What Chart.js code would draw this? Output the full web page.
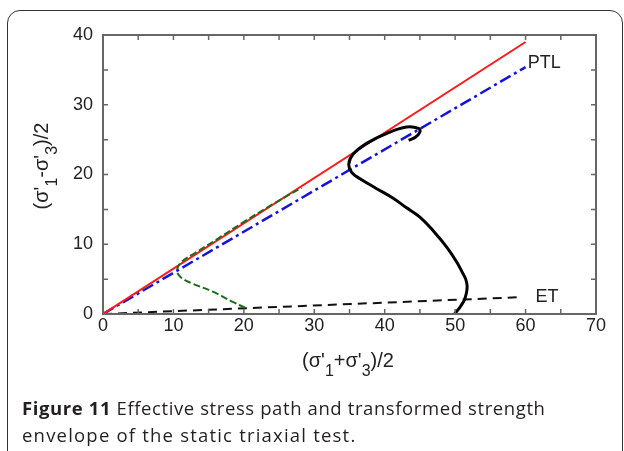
<!DOCTYPE html>
<html>
<head>
<meta charset="utf-8">
<script src="https://cdn.jsdelivr.net/npm/chart.js@4.4.1/dist/chart.umd.min.js"></script>
<style>
    html, body { margin: 0; padding: 0; background: #fff; }
    #wrap { position: relative; width: 624px; height: 451px; overflow: hidden; background: #fff; }
    #c { position: absolute; left: 0; top: 0; }
    .frame {
        position: absolute; left: 7px; top: 10px; width: 616px; height: 470px;
        border: 1.5px solid #333; border-radius: 13px; box-sizing: border-box;
    }
    .axis-title {
        position: absolute; font-family: Arial, "Liberation Sans", sans-serif;
        font-size: 20px; line-height: 23px; color: #222; white-space: nowrap;
    }
    .axis-title sub { font-size: 16px; vertical-align: baseline; position: relative; top: 9px; line-height: 0; }
    #xTitle { left: 348px; top: 349px; transform: translateX(-50%); }
    #yTitle { left: 41px; top: 166px; transform: translate(-50%, -50%) rotate(-90deg); }
    #caption {
        position: absolute; left: 22px; top: 394px;
        font-family: "Open Sans", "Noto Sans", sans-serif; font-size: 18.5px;
        letter-spacing: 0.6px; line-height: 27px; color: #231f20; white-space: nowrap;
    }
    #caption b { font-weight: 700; }
    #caption .l2 { letter-spacing: 1.2px; }
</style>
</head>
<body>
<div id="wrap">
    <canvas id="c" width="624" height="451"></canvas>
    <div class="frame"></div>
    <div class="axis-title" id="xTitle">(σ'<sub>1</sub>+σ'<sub>3</sub>)/2</div>
    <div class="axis-title" id="yTitle">(σ'<sub>1</sub>-σ'<sub>3</sub>)/2</div>
    <div id="caption"><b>Figure 11</b> Effective stress path and transformed strength<br><span class="l2">envelope of the static triaxial test.</span></div>
</div>
<script>
// Effective stress path vs. strength envelope (static triaxial test)

const X_RANGE = [0, 70];
const Y_RANGE = [0, 40];

// failure envelope (red) and phase transformation line (blue dash-dot)
const failureLine = [{ x: 0, y: 0 }, { x: 60, y: 39 }];
const ptlLine     = [{ x: 0, y: 0 }, { x: 60, y: 35.4 }];
// ET line (black dashed)
const etLine      = [{ x: 0, y: 0 }, { x: 59, y: 2.4 }];

// green dashed stress path
const pathGreenX = [20.2, 18.5, 15.6, 12.6, 11.0, 10.5, 11.2, 13.0, 16.0, 20.0, 24.2, 28.2];
const pathGreenY = [0.9, 1.7, 3.2, 4.4, 5.3, 6.3, 7.5, 8.7, 10.6, 13.2, 15.8, 18.1];

// black solid stress path
const pathBlackX = [49.9, 50.7, 51.3, 51.6, 51.7, 51.5, 51.0, 50.2, 48.8, 47.0, 45.0, 43.0, 41.2, 38.8, 36.5, 35.3, 34.9, 35.5, 37.5, 40.3, 43.1, 44.8, 45.0, 44.3, 43.4];
const pathBlackY = [0.0, 1.0, 2.0, 3.0, 4.0, 5.0, 6.0, 7.5, 9.6, 11.8, 13.9, 15.3, 16.6, 18.0, 19.4, 20.3, 21.5, 22.9, 24.5, 25.9, 26.8, 26.6, 26.1, 25.3, 24.9];

// line labels
const lineLabels = [
    { text: 'PTL', x: 60.3, y: 36.0 },
    { text: 'ET',  x: 61.4, y: 2.4 }
];

const toPts = (xs, ys) => xs.map((x, i) => ({ x, y: ys[i] }));

const AXIS_FONT = { family: 'Arial, "Liberation Sans", sans-serif', size: 18 };

// inward ticks on all four sides + frame + line labels
const framePlugin = {
    id: 'frame',
    afterDatasetsDraw(chart) {
        const { ctx, chartArea: a, scales } = chart;
        const xs = scales.x, ys = scales.y;
        const len = 5;
        ctx.save();
        ctx.strokeStyle = '#666';
        ctx.lineWidth = 1.5;
        ctx.beginPath();
        for (let v = X_RANGE[0] + 5; v < X_RANGE[1]; v += 5) {
            const px = xs.getPixelForValue(v);
            ctx.moveTo(px, a.bottom); ctx.lineTo(px, a.bottom - len);
            ctx.moveTo(px, a.top);    ctx.lineTo(px, a.top + len);
        }
        for (let v = Y_RANGE[0] + 5; v < Y_RANGE[1]; v += 5) {
            const py = ys.getPixelForValue(v);
            ctx.moveTo(a.left, py);  ctx.lineTo(a.left + len, py);
            ctx.moveTo(a.right, py); ctx.lineTo(a.right - len, py);
        }
        ctx.stroke();
        ctx.lineWidth = 2;
        ctx.strokeRect(a.left, a.top, a.right - a.left, a.bottom - a.top);

        ctx.fillStyle = '#222';
        ctx.font = `${AXIS_FONT.size}px ${AXIS_FONT.family}`;
        ctx.textAlign = 'left';
        ctx.textBaseline = 'middle';
        lineLabels.forEach(l => ctx.fillText(l.text, xs.getPixelForValue(l.x), ys.getPixelForValue(l.y)));
        ctx.restore();
    }
};

// first dataset is drawn on top
new Chart(document.getElementById('c'), {
    type: 'scatter',
    data: {
        datasets: [
            { data: toPts(pathBlackX, pathBlackY), borderColor: '#000', borderWidth: 3, tension: 0.4 },
            { data: toPts(pathGreenX, pathGreenY), borderColor: '#1e6b1e', borderWidth: 2, borderDash: [7, 3], tension: 0.4 },
            { data: failureLine, borderColor: '#ff1a1a', borderWidth: 2 },
            { data: ptlLine, borderColor: '#1414d8', borderWidth: 2.5, borderDash: [12, 4, 3, 4] },
            { data: etLine, borderColor: '#111', borderWidth: 2, borderDash: [9, 6] }
        ].map(d => ({ showLine: true, pointRadius: 0, fill: false, ...d }))
    },
    options: {
        responsive: false,
        animation: false,
        devicePixelRatio: 1,
        layout: { padding: { left: 63, top: 35, right: 28, bottom: 107 } },
        plugins: { legend: { display: false }, tooltip: { enabled: false } },
        scales: {
            x: {
                type: 'linear', min: X_RANGE[0], max: X_RANGE[1],
                grid: { display: false, drawTicks: false }, border: { display: false },
                ticks: { stepSize: 10, color: '#222', font: AXIS_FONT, padding: 1, maxRotation: 0 },
                afterFit: s => { s.height = 30; }
            },
            y: {
                type: 'linear', min: Y_RANGE[0], max: Y_RANGE[1],
                grid: { display: false, drawTicks: false }, border: { display: false },
                ticks: { stepSize: 10, color: '#222', font: AXIS_FONT, padding: 10 },
                afterFit: s => { s.width = 40; }
            }
        }
    },
    plugins: [framePlugin]
});
</script>
</body>
</html>
